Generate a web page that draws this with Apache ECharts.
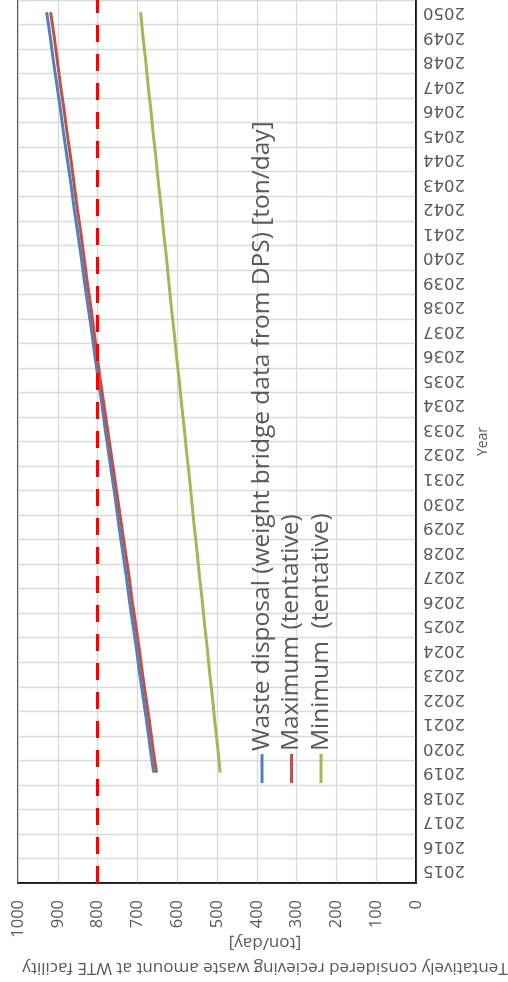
<!DOCTYPE html>
<html>
<head>
<meta charset="utf-8">
<script src="https://cdn.jsdelivr.net/npm/echarts@6/dist/echarts.min.js"></script>
<style>
html,body{margin:0;padding:0;background:#fff;}
#chart{width:508px;height:982px;}
</style>
</head>
<body>
<div id="chart"></div>
<script>
var years = ['2015','2016','2017','2018','2019','2020','2021','2022','2023','2024','2025','2026','2027','2028','2029','2030','2031','2032','2033','2034','2035','2036','2037','2038','2039','2040','2041','2042','2043','2044','2045','2046','2047','2048','2049','2050'];
var wasteDisposal = [null,null,null,null,659,668,676,685,694,702,711,720,728,737,746,754,763,772,781,789,798,807,815,824,833,841,850,859,867,876,885,893,902,911,919,928];
var maximumTentative = [null,null,null,null,652,661,669,678,687,695,704,713,721,730,739,748,757,766,775,784,793,801,809,817,826,834,842,851,859,867,876,884,893,901,909,918];
var minimumTentative = [null,null,null,null,492,498,505,511,518,524,531,537,544,550,557,563,569,576,582,589,595,602,608,615,621,627,634,640,647,653,660,666,673,679,686,692];
var capacityLine = 800;
var valueTicks = [0,100,200,300,400,500,600,700,800,900,1000];
var seriesNames = ['Waste disposal (weight bridge data from DPS) [ton/day]','Maximum (tentative)','Minimum  (tentative)'];
var seriesColors = ['#4F81BD','#C0504D','#9BBB59'];
var axisTitle = 'Tentatively considered recieving waste amount at WTE facility\n[ton/day]';

var chart = echarts.init(document.getElementById('chart'));
var graphics = [];
seriesNames.forEach(function(n, i){
  var cx = 262 + i*29.5;
  graphics.push({type:'line', z:100, shape:{x1:cx,y1:783,x2:cx,y2:754}, style:{stroke:seriesColors[i], lineWidth:3}});
  graphics.push({type:'text', z:100, x:cx, y:751, rotation:Math.PI/2, style:{text:n, fill:'#595959', font:'24.5px "Open Sans"', textAlign:'left', textVerticalAlign:'middle'}});
});
graphics.push({type:'text', x:265, y:955, rotation:Math.PI, style:{text:axisTitle, fill:'#595959', font:'17px "Open Sans"', textAlign:'center', textVerticalAlign:'middle', lineHeight:25}});

var option = {
  animation:false,
  grid:{left:18, right:92, top:-1, bottom:99, show:true, borderColor:'#000', borderWidth:1.5, containLabel:false},
  xAxis:{type:'value', inverse:true, min:valueTicks[0], max:valueTicks[valueTicks.length-1], interval:100, position:'bottom',
    axisLine:{show:true, lineStyle:{color:'#000', width:1.5}}, axisTick:{show:false},
    axisLabel:{rotate:90, margin:17, color:'#595959', fontFamily:'Open Sans', fontSize:16.5, formatter:function(v){return String(v);}},
    splitLine:{show:true, lineStyle:{color:'#d9d9d9', width:1.3}}},
  yAxis:{type:'category', data:years, position:'right', boundaryGap:true,
    axisLine:{show:true, lineStyle:{color:'#000', width:1.5}}, axisTick:{show:false},
    axisLabel:{rotate:180, margin:7, color:'#595959', fontFamily:'DejaVu Sans', fontSize:16.5, interval:0},
    splitLine:{show:true, interval:0, lineStyle:{color:'#d9d9d9', width:1.3}},
    name:'Year', nameLocation:'middle', nameRotate:90, nameGap:58,
    nameTextStyle:{color:'#595959', fontFamily:'Open Sans', fontSize:14}},
  series:[
    {name:seriesNames[0], type:'line', data:wasteDisposal, showSymbol:false, lineStyle:{color:seriesColors[0], width:3}, itemStyle:{color:seriesColors[0]},
      markLine:{silent:true, symbol:'none', label:{show:false}, lineStyle:{color:'#FF0000', width:3, type:[17,12]}, data:[{xAxis:capacityLine}]}},
    {name:seriesNames[1], type:'line', data:maximumTentative, showSymbol:false, lineStyle:{color:seriesColors[1], width:3}, itemStyle:{color:seriesColors[1]}},
    {name:seriesNames[2], type:'line', data:minimumTentative, showSymbol:false, lineStyle:{color:seriesColors[2], width:3}, itemStyle:{color:seriesColors[2]}}
  ],
  graphic:graphics
};
chart.setOption(option);
</script>
</body>
</html>
